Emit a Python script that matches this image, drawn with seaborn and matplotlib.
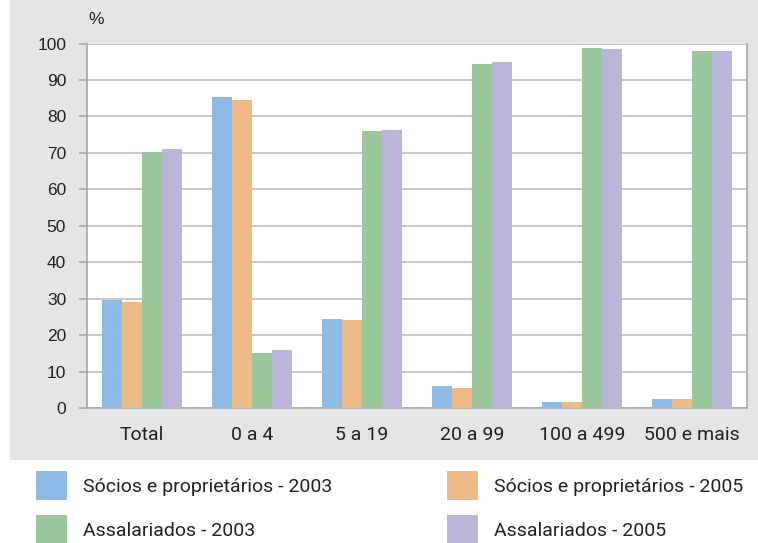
import matplotlib
matplotlib.use("Agg")
import matplotlib.pyplot as plt
from matplotlib.patches import Rectangle
import pandas as pd
import seaborn as sns
import numpy as np

categories = ["Total", "0 a 4", "5 a 19", "20 a 99", "100 a 499", "500 e mais"]
socios_2003 = [29.6, 85.3, 24.4, 6.0, 1.6, 2.5]
socios_2005 = [29.1, 84.5, 24.1, 5.5, 1.6, 2.5]
assal_2003 = [70.2, 15.1, 76.0, 94.4, 98.8, 97.9]
assal_2005 = [71.1, 15.9, 76.3, 94.9, 98.5, 97.9]

series_names = ["Sócios e proprietários - 2003", "Sócios e proprietários - 2005",
                "Assalariados - 2003", "Assalariados - 2005"]
colors = ["#8dbbe6", "#ecba87", "#9ac89c", "#bab6da"]

rows = []
for name, vals in zip(series_names, [socios_2003, socios_2005, assal_2003, assal_2005]):
    for cat, v in zip(categories, vals):
        rows.append({"cat": cat, "serie": name, "val": v})
df = pd.DataFrame(rows)

sns.set_style("white")
narrow = ["Roboto", "DejaVu Sans"]
plt.rcParams["font.family"] = ["Liberation Sans", "DejaVu Sans"]

fig = plt.figure(figsize=(7.58, 5.43), dpi=100)
# gray panel behind the chart
fig.patches.append(Rectangle((10 / 758, 1 - 460 / 543), 1, 1, transform=fig.transFigure,
                             facecolor="#e4e5e7", edgecolor="none", zorder=-10))

ax = fig.add_axes([87 / 758, 1 - 408 / 543, 660 / 758, 364.5 / 543])
ax.set_facecolor("white")
sns.barplot(data=df, x="cat", y="val", hue="serie", palette=colors, width=0.73,
            gap=0, saturation=1, ax=ax, legend=True, zorder=3,
            linewidth=0, edgecolor="none")

ax.set_ylim(0, 100)
ax.set_xlim(-0.5, 5.5)
ax.set_yticks(np.arange(0, 101, 10))
ax.yaxis.grid(True, color="#bdbdbd", linewidth=1.2, zorder=0)
ax.set_axisbelow(True)
ax.set_xlabel("")
ax.set_ylabel("")

ax.set_xticks(range(len(categories)))
ax.set_xticklabels(categories, family=narrow, fontsize=14)
ax.set_xticks(np.arange(-0.5, 6, 1), minor=True)
ax.tick_params(axis="x", which="major", length=0, pad=13, colors="#222222")
ax.tick_params(axis="x", which="minor", length=6, width=1.2, color="#a8a8a8", direction="out")
ax.tick_params(axis="y", length=6, width=1.2, color="#a8a8a8", pad=9, labelsize=12.5,
               labelcolor="#222222", direction="out", left=True)

for side in ["left", "bottom", "right"]:
    ax.spines[side].set_color("#a8a8a8")
    ax.spines[side].set_linewidth(1.2)
ax.spines["top"].set_visible(False)

fig.text(88 / 758, 1 - 20 / 543, "%", fontsize=12.5, color="#222222", va="center", ha="left")

handles, labels = ax.get_legend_handles_labels()
ax.get_legend().remove()

# two legend columns, placed separately
for idx, x0 in [([0, 2], 36), ([1, 3], 447)]:
    fig.legend([handles[i] for i in idx], [labels[i] for i in idx], ncol=1,
               loc="upper left", bbox_to_anchor=(x0 / 758, 1 - 471 / 543),
               frameon=False, prop={"family": narrow, "size": 14},
               handlelength=1.6, handleheight=1.9, handletextpad=0.8,
               labelspacing=0.78, borderpad=0, borderaxespad=0,
               labelcolor="#222222")

fig.savefig("out.png", dpi=100)
